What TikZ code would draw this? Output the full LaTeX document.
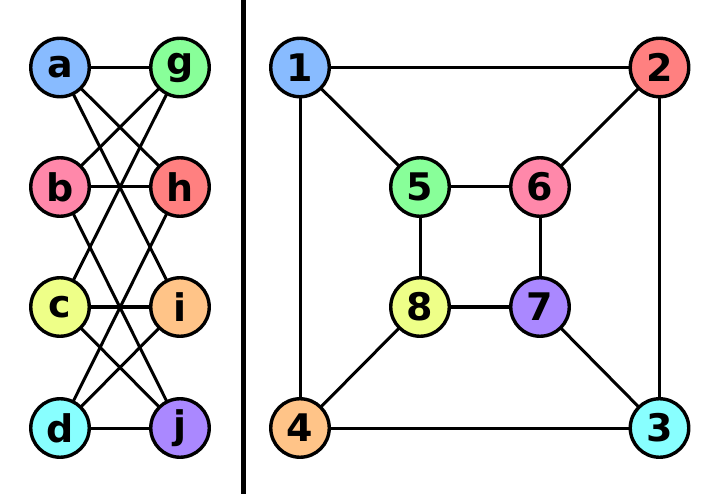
\documentclass[tikz,border=0pt]{standalone}
\usepackage{fontspec}
\setmainfont{DejaVu Sans}
\pgfdeclarelayer{bg}
\pgfsetlayers{bg,main}
\begin{document}
\begin{tikzpicture}[x=1pt,y=-1pt,
  vtx/.style={circle,draw=black,line width=3.4pt,minimum size=58.5pt,inner sep=0pt,font=\fontsize{38}{40}\selectfont\bfseries},
  edge/.style={line width=3pt}]
\definecolor{cblue}{HTML}{88BBFF}
\definecolor{cgreen}{HTML}{88FF99}
\definecolor{cpink}{HTML}{FF88AA}
\definecolor{csalmon}{HTML}{FF8080}
\definecolor{cyellow}{HTML}{EEFF88}
\definecolor{corange}{HTML}{FFC488}
\definecolor{ccyan}{HTML}{88FFFF}
\definecolor{cpurple}{HTML}{AA88FF}
\useasboundingbox (0,0) rectangle (720,494);
\coordinate (st) at (243.5,0);
\coordinate (sb) at (243.5,494);
\draw[line width=5pt] (st) -- (sb);
% left graph
\node[vtx,fill=cblue] (a) at (60,67.5) {a};
\node[vtx,fill=cgreen] (g) at (180,67.5) {g};
\node[vtx,fill=cpink] (b) at (60,187) {b};
\node[vtx,fill=csalmon] (h) at (180,187) {h};
\node[vtx,fill=cyellow] (c) at (60,307) {c};
\node[vtx,fill=corange] (i) at (180,307) {i};
\node[vtx,fill=ccyan] (d) at (60,428) {d};
\node[vtx,fill=cpurple] (j) at (180,428) {j};
% right graph
\node[vtx,fill=cblue] (n1) at (300,67.5) {1};
\node[vtx,fill=csalmon] (n2) at (659.5,67.5) {2};
\node[vtx,fill=ccyan] (n3) at (659.5,428) {3};
\node[vtx,fill=corange] (n4) at (300,428) {4};
\node[vtx,fill=cgreen] (n5) at (420,187) {5};
\node[vtx,fill=cpink] (n6) at (540,187) {6};
\node[vtx,fill=cpurple] (n7) at (540,307) {7};
\node[vtx,fill=cyellow] (n8) at (420,307) {8};
\begin{pgfonlayer}{bg}
\fill[white] (0,0) rectangle (720,494);
\foreach \u/\v in {a/g,a/h,a/i,b/g,b/h,b/j,c/g,c/i,c/j,d/h,d/i,d/j,
  n1/n2,n1/n4,n1/n5,n2/n6,n2/n3,n5/n6,n5/n8,n6/n7,n8/n7,n8/n4,n7/n3,n4/n3}
  \draw[edge] (\u.center) -- (\v.center);
\end{pgfonlayer}
\end{tikzpicture}
\end{document}
